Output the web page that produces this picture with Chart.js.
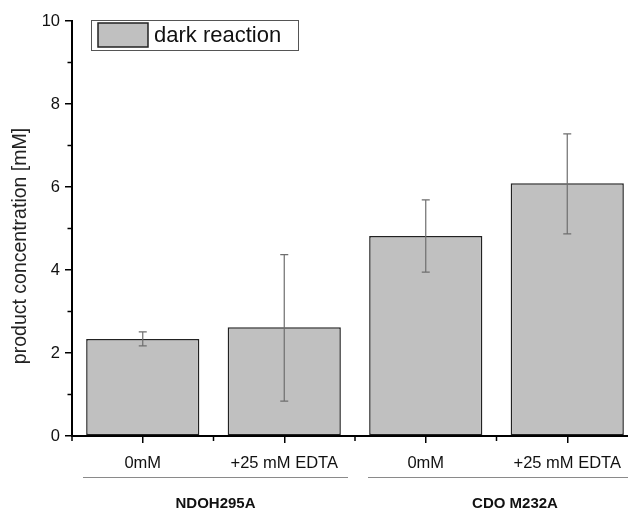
<!DOCTYPE html>
<html>
<head>
<meta charset="utf-8">
<script src="https://cdn.jsdelivr.net/npm/chart.js@4"></script>
<style>
  html, body { margin: 0; padding: 0; background: #fff; }
  #wrap { width: 628px; height: 513px; overflow: hidden; position: relative; }
  canvas { display: block; }
</style>
</head>
<body>
<div id="wrap"><canvas id="chart" width="645" height="513"></canvas></div>
<script>
const categories = ["0mM", "+25 mM EDTA", "0mM", "+25 mM EDTA"];
const groups = ["NDOH295A", "CDO M232A"];
const groupStart = [0, 2];
const groupEnd = [1, 3];
const values = [2.34, 2.62, 4.82, 6.09];
const errLow = [2.17, 0.84, 3.95, 4.87];
const errHigh = [2.51, 4.37, 5.69, 7.28];
const yTicks = [0, 2, 4, 6, 8, 10];
const yMinorTicks = [1, 3, 5, 7, 9];
const seriesName = "dark reaction";
const yTitle = "product concentration [mM]";

const FONT = "'Liberation Sans', Arial, sans-serif";

// error bars, minor ticks, group labels, legend, y title
const extras = {
  id: "extras",
  afterDatasetsDraw(chart) {
    const ctx = chart.ctx;
    const x = chart.scales.x;
    const y = chart.scales.y;
    ctx.save();
    ctx.strokeStyle = "#6e6e6e";
    ctx.lineWidth = 1.2;
    values.forEach((v, i) => {
      const cx = x.getPixelForValue(i);
      const top = y.getPixelForValue(errHigh[i]);
      const bot = y.getPixelForValue(errLow[i]);
      ctx.beginPath();
      ctx.moveTo(cx, top); ctx.lineTo(cx, bot);
      ctx.moveTo(cx - 4, top); ctx.lineTo(cx + 4, top);
      ctx.moveTo(cx - 4, bot); ctx.lineTo(cx + 4, bot);
      ctx.stroke();
    });
    ctx.restore();
  },
  afterDraw(chart) {
    const ctx = chart.ctx;
    const x = chart.scales.x;
    const y = chart.scales.y;
    const area = chart.chartArea;
    const w = x.getPixelForValue(1) - x.getPixelForValue(0);
    ctx.save();

    // minor ticks
    ctx.strokeStyle = "#000";
    ctx.lineWidth = 1.5;
    yMinorTicks.forEach(t => {
      const py = y.getPixelForValue(t);
      ctx.beginPath();
      ctx.moveTo(area.left, py); ctx.lineTo(area.left - 4.5, py);
      ctx.stroke();
    });
    for (let i = 0; i <= categories.length; i++) {
      const px = x.getPixelForValue(i) - w / 2;
      ctx.beginPath();
      ctx.moveTo(px, area.bottom); ctx.lineTo(px, area.bottom + 5);
      ctx.stroke();
    }

    // group lines and labels
    groups.forEach((g, k) => {
      const left = x.getPixelForValue(groupStart[k]) - w / 2 + (k === 0 ? 11 : 13);
      const right = x.getPixelForValue(groupEnd[k]) + w / 2 + (k === groups.length - 1 ? 24 : -7);
      ctx.strokeStyle = "#8a8a8a";
      ctx.lineWidth = 1;
      ctx.beginPath();
      ctx.moveTo(left, 477.5); ctx.lineTo(right, 477.5);
      ctx.stroke();
      ctx.fillStyle = "#111";
      ctx.font = "bold 15px " + FONT;
      ctx.textAlign = "center";
      ctx.textBaseline = "middle";
      ctx.fillText(g, (left + right) / 2, 504);
    });

    // y title
    ctx.save();
    ctx.translate(21, 246);
    ctx.rotate(-Math.PI / 2);
    ctx.fillStyle = "#222";
    ctx.font = "19.5px " + FONT;
    ctx.textAlign = "center";
    ctx.textBaseline = "middle";
    ctx.fillText(yTitle, 0, 0);
    ctx.restore();

    // legend
    ctx.fillStyle = "#fff";
    ctx.strokeStyle = "#555";
    ctx.lineWidth = 1;
    ctx.fillRect(91, 20, 207, 30);
    ctx.strokeRect(91.5, 20.5, 207, 30);
    ctx.fillStyle = "#c0c0c0";
    ctx.fillRect(98, 23, 50, 24);
    ctx.strokeStyle = "#222";
    ctx.lineWidth = 1.5;
    ctx.strokeRect(98, 23, 50, 24);
    ctx.fillStyle = "#111";
    ctx.font = "22px " + FONT;
    ctx.textAlign = "left";
    ctx.textBaseline = "middle";
    ctx.fillText(seriesName, 154, 36);

    ctx.restore();
  }
};

new Chart(document.getElementById("chart"), {
  type: "bar",
  data: {
    labels: categories,
    datasets: [{
      label: seriesName,
      data: values,
      backgroundColor: "#c0c0c0",
      borderColor: "#222",
      borderWidth: 1.5,
      borderSkipped: false,
      barPercentage: 0.8,
      categoryPercentage: 1.0
    }]
  },
  options: {
    responsive: false,
    animation: false,
    layout: { padding: { top: 21, right: 7, left: 0, bottom: 0 } },
    plugins: {
      legend: { display: false },
      tooltip: { enabled: false }
    },
    scales: {
      x: {
        afterFit: scale => { scale.height = 77; },
        grid: {
          offset: false,
          drawOnChartArea: false,
          tickLength: 7,
          lineWidth: 1.5,
          color: "#000"
        },
        border: { color: "#000", width: 2 },
        ticks: {
          color: "#111",
          padding: 11,
          maxRotation: 0,
          font: { family: FONT, size: 16.5 }
        }
      },
      y: {
        min: 0,
        max: 10,
        afterFit: scale => { scale.width = 72; },
        afterBuildTicks: scale => { scale.ticks = yTicks.map(v => ({ value: v })); },
        grid: {
          drawOnChartArea: false,
          tickLength: 7,
          lineWidth: 1.5,
          color: "#000"
        },
        border: { color: "#000", width: 2 },
        ticks: {
          color: "#111",
          padding: 5,
          font: { family: FONT, size: 16.5 }
        }
      }
    }
  },
  plugins: [extras]
});
</script>
</body>
</html>
